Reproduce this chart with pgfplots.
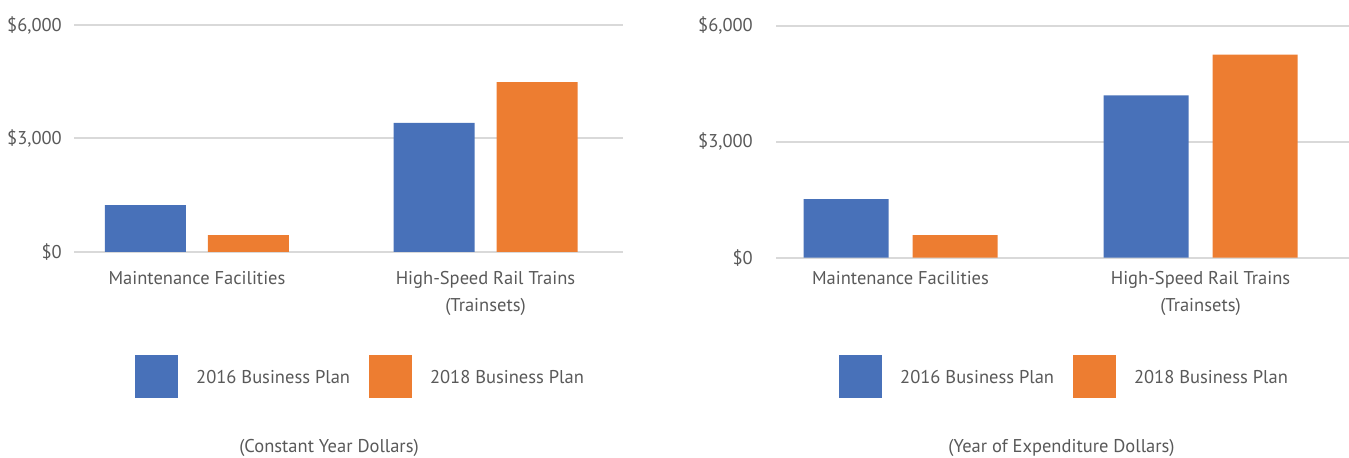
\documentclass[border=0pt]{standalone}
\usepackage{fontspec}
\setmainfont{PT Sans}
\usepackage{pgfplots}
\pgfplotsset{compat=1.18}
\definecolor{cblue}{HTML}{4871B9}
\definecolor{corange}{HTML}{ED7D31}
\definecolor{cgrid}{HTML}{D9D9D9}
\definecolor{ctext}{HTML}{595959}
\newcommand{\chartfont}{\fontsize{18.5bp}{27bp}\selectfont}
\pgfplotsset{
  hsr/.style={
    scale only axis,
    anchor=south west,
    clip=false,
    ymin=0, ymax=6000,
    ytick={0,3000,6000},
    yticklabels={{\$0},{\$3,000},{\$6,000}},
    xtick={0,1},
    xticklabels={{Maintenance Facilities},{High-Speed Rail Trains\\(Trainsets)}},
    axis line style={draw=none},
    major tick length=0pt,
    ymajorgrids,
    grid style={cgrid, line width=2bp},
    tick label style={font=\chartfont, text=ctext},
    xticklabel style={align=center, anchor=north, inner sep=0pt},
    yticklabel style={anchor=east, inner sep=0pt},
    legend columns=2,
    legend cell align=left,
    legend style={draw=none, fill=none, inner sep=0pt, anchor=west,
      font=\chartfont, text=ctext,
      nodes={inner sep=0pt},
      /tikz/every odd column/.append style={column sep=18bp},
      /tikz/every even column/.append style={column sep=19bp}},
    legend image code/.code={\fill[##1] (0bp,-20bp) rectangle (43bp,23bp);},
  }
}
\begin{document}
\begin{tikzpicture}
\useasboundingbox (0,0) rectangle (1349bp,458bp);
% Left panel: constant year dollars
\begin{axis}[hsr,
  at={(74bp,206bp)}, width=549bp, height=227bp,
  xmin=-0.4263, xmax=1.4766,
  yticklabel style={xshift=-12bp},
  xticklabel style={yshift=-19bp},
  legend style={at={(0.1111,-0.5485)}}]
\addplot[ybar, bar width=81bp, bar shift=-51.5bp, fill=cblue, draw=none]
  coordinates {(0,1242) (1,3410)};
\addlegendentry{2016 Business Plan}
\addplot[ybar, bar width=81bp, bar shift=51.5bp, fill=corange, draw=none]
  coordinates {(0,449) (1,4493)};
\addlegendentry{2018 Business Plan}
\end{axis}
% Right panel: year of expenditure dollars
\begin{axis}[hsr,
  at={(776bp,200.3bp)}, width=573bp, height=232bp,
  xmin=-0.415, xmax=1.495,
  yticklabel style={xshift=-23bp},
  xticklabel style={yshift=-13.3bp},
  legend style={at={(0.10995,-0.512)}}]
\addplot[ybar, bar width=85bp, bar shift=-54.5bp, fill=cblue, draw=none]
  coordinates {(0,1514) (1,4197)};
\addlegendentry{2016 Business Plan}
\addplot[ybar, bar width=85bp, bar shift=54.5bp, fill=corange, draw=none]
  coordinates {(0,585) (1,5254)};
\addlegendentry{2018 Business Plan}
\end{axis}
\node[font=\chartfont, text=ctext, inner sep=0pt] at (329bp,10bp) {(Constant Year Dollars)};
\node[font=\chartfont, text=ctext, inner sep=0pt] at (1061.5bp,10bp) {(Year of Expenditure Dollars)};
\end{tikzpicture}
\end{document}
